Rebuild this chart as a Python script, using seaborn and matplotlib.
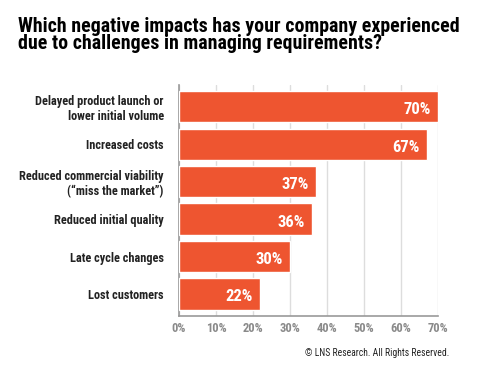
import matplotlib
matplotlib.use("Agg")
import matplotlib.pyplot as plt
import seaborn as sns
import pandas as pd

# Datos del gráfico
categorias = [
    "Delayed product launch or\nlower initial volume",
    "Increased costs",
    "Reduced commercial viability\n(\u201cmiss the market\u201d)",
    "Reduced initial quality",
    "Late cycle changes",
    "Lost customers",
]
valores = [70, 67, 37, 36, 30, 22]
ticks = [0, 10, 20, 30, 40, 50, 60, 70]
tick_labels = ["0%", "10%", "20%", "30%", "40%", "50%", "60%", "70%"]

df = pd.DataFrame({"cat": categorias, "val": valores})

sns.set_theme(style="white")
plt.rcParams["font.family"] = ["Roboto Condensed", "Archivo Narrow", "Liberation Sans", "DejaVu Sans"]

fig = plt.figure(figsize=(5, 3.67), dpi=100)
ax = fig.add_axes([0.358, 0.139, 0.518, 0.629])

sns.barplot(data=df, x="val", y="cat", color="#EE5530", saturation=1,
            width=0.83, ax=ax, zorder=3)

ax.set_xlim(0, 70)
ax.set_ylim(5.587, -0.573)
ax.set_xticks(ticks)
ax.set_xticklabels(tick_labels, color="#8a8a8a", fontsize=9, fontweight="bold")
ax.tick_params(axis="x", length=0, pad=4)
ax.tick_params(axis="y", length=0, pad=11)
for lbl in ax.get_yticklabels():
    lbl.set_fontsize(8.8)
    lbl.set_fontweight("bold")
    lbl.set_color("#222222")
    lbl.set_horizontalalignment("right")
    lbl.set_multialignment("right")
ax.set_xlabel("")
ax.set_ylabel("")

ax.grid(axis="x", color="#dddddd", linewidth=1, zorder=0)
for s in ["top", "right"]:
    ax.spines[s].set_visible(False)
for s in ["left", "bottom"]:
    ax.spines[s].set_color("#999999")
    ax.spines[s].set_linewidth(1.2)

# Etiquetas de valores dentro de las barras
for i, v in enumerate(valores):
    ax.text(v - 2.0, i + 0.08, f"{v}%", ha="right", va="center",
            color="white", fontsize=12, fontweight="bold", zorder=4)

fig.text(0.036, 0.905, "Which negative impacts has your company experienced\ndue to challenges in managing requirements?",
         ha="left", va="center", fontsize=14.3, fontweight="bold",
         color="black", linespacing=0.9)
fig.text(0.898, 0.038, "\u00a9 LNS Research. All Rights Reserved.", ha="right",
         va="center", fontsize=6.9, color="#222222")

fig.savefig("out.png", dpi=100)
